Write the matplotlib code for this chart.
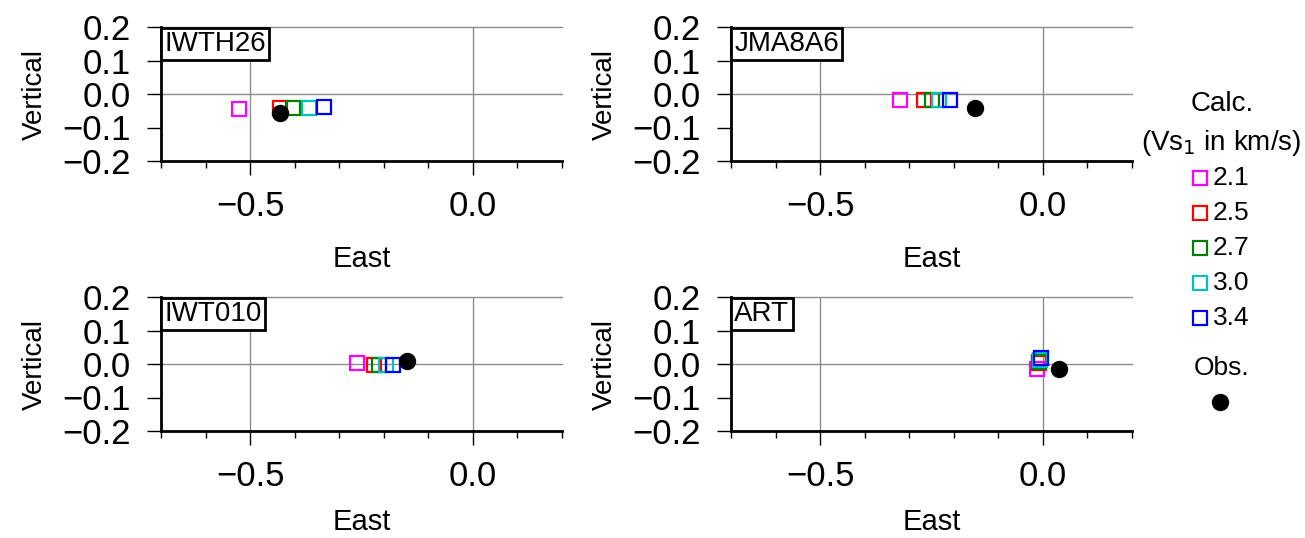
import matplotlib
matplotlib.use("Agg")
import matplotlib.pyplot as plt
from matplotlib.lines import Line2D
from matplotlib.ticker import MultipleLocator

plt.rcParams['font.family'] = ['Liberation Sans', 'DejaVu Sans']

stations = ["IWTH26", "JMA8A6", "IWT010", "ART"]
vs_labels = ["2.1", "2.5", "2.7", "3.0", "3.4"]
colors = ["#ff00ff", "#ff0000", "#008000", "#00c0c0", "#0000ff"]

calc_east = {
    "IWTH26": [-0.525, -0.433, -0.403, -0.368, -0.334],
    "JMA8A6": [-0.321, -0.267, -0.250, -0.234, -0.208],
    "IWT010": [-0.260, -0.222, -0.210, -0.195, -0.180],
    "ART":    [-0.014, -0.009, -0.008, -0.007, -0.005],
}
calc_vert = {
    "IWTH26": [-0.046, -0.041, -0.041, -0.041, -0.040],
    "JMA8A6": [-0.019, -0.019, -0.019, -0.019, -0.019],
    "IWT010": [0.002, -0.003, -0.003, -0.003, -0.003],
    "ART":    [-0.015, 0.004, 0.007, 0.011, 0.017],
}
obs_east = {"IWTH26": -0.434, "JMA8A6": -0.152, "IWT010": -0.147, "ART": 0.036}
obs_vert = {"IWTH26": -0.056, "JMA8A6": -0.041, "IWT010": 0.009, "ART": -0.014}

W, H = 1305, 538
fig = plt.figure(figsize=(W / 100, H / 100), dpi=100)

lefts = [161, 731, 161, 731]
tops = [27, 27, 297, 297]
xlabpads = [16, 16, 11, 11]
aw, ah = 401, 134

for st, l, t, lp in zip(stations, lefts, tops, xlabpads):
    ax = fig.add_axes([l / W, 1 - (t + ah) / H, aw / W, ah / H])
    ax.set_xlim(-0.7, 0.2)
    ax.set_ylim(-0.2, 0.2)
    for gx in (-0.5, 0.0):
        ax.axvline(gx, color="#8c8c8c", lw=1.0, zorder=0)
    for gy in (0.2, 0.0):
        ax.axhline(gy, color="#8c8c8c", lw=1.0, zorder=0, clip_on=False)
    for e, v, c in zip(calc_east[st], calc_vert[st], colors):
        ax.plot(e, v, 's', ms=9.5, mfc='none', mec=c, mew=1.6, zorder=3)
    ax.plot(obs_east[st], obs_vert[st], 'o', ms=11.5, color='black', zorder=4)
    for s in ("top", "right"):
        ax.spines[s].set_visible(False)
    for s in ("left", "bottom"):
        ax.spines[s].set_linewidth(2.0)
    ax.xaxis.set_minor_locator(MultipleLocator(0.1))
    ax.set_xticks([-0.5, 0.0])
    ax.set_xticklabels(["\u22120.5", "0.0"])
    ax.set_yticks([-0.2, -0.1, 0.0, 0.1, 0.2])
    ax.set_yticklabels(["\u22120.2", "\u22120.1", "0.0", "0.1", "0.2"])
    ax.tick_params(axis='x', which='major', length=10, width=1.0, pad=11, labelsize=25)
    ax.tick_params(axis='x', which='minor', length=5, width=1.0)
    ax.tick_params(axis='y', which='major', length=10, width=1.0, pad=12, labelsize=25)
    ax.set_xlabel("East", fontsize=21, labelpad=lp)
    ax.set_ylabel("Vertical", fontsize=20, labelpad=10)
    ax.text(0.008, 0.97, st, transform=ax.transAxes, ha='left', va='top',
            fontsize=20, zorder=5,
            bbox=dict(boxstyle='square,pad=0.12', fc='white', ec='black', lw=2.0))

# legend (manual)
fig.text(1222 / W, 1 - 104 / H, "Calc.", ha='center', va='center', fontsize=20)
fig.text(1221 / W, 1 - 143 / H, "(Vs$_1$ in km/s)", ha='center', va='center', fontsize=20)
ys = [178, 213, 248, 283, 318]
for lab, c, y in zip(vs_labels, colors, ys):
    fig.add_artist(Line2D([1200 / W], [1 - y / H], marker='s', ms=9.5, mfc='none',
                          mec=c, mew=1.6, ls='none', transform=fig.transFigure))
    fig.text(1213 / W, 1 - y / H, lab, ha='left', va='center', fontsize=19)
fig.text(1222 / W, 1 - 368 / H, "Obs.", ha='center', va='center', fontsize=19)
fig.add_artist(Line2D([1220 / W], [1 - 402 / H], marker='o', ms=11.5, color='black',
                      ls='none', transform=fig.transFigure))

fig.savefig("out.png", dpi=100)
